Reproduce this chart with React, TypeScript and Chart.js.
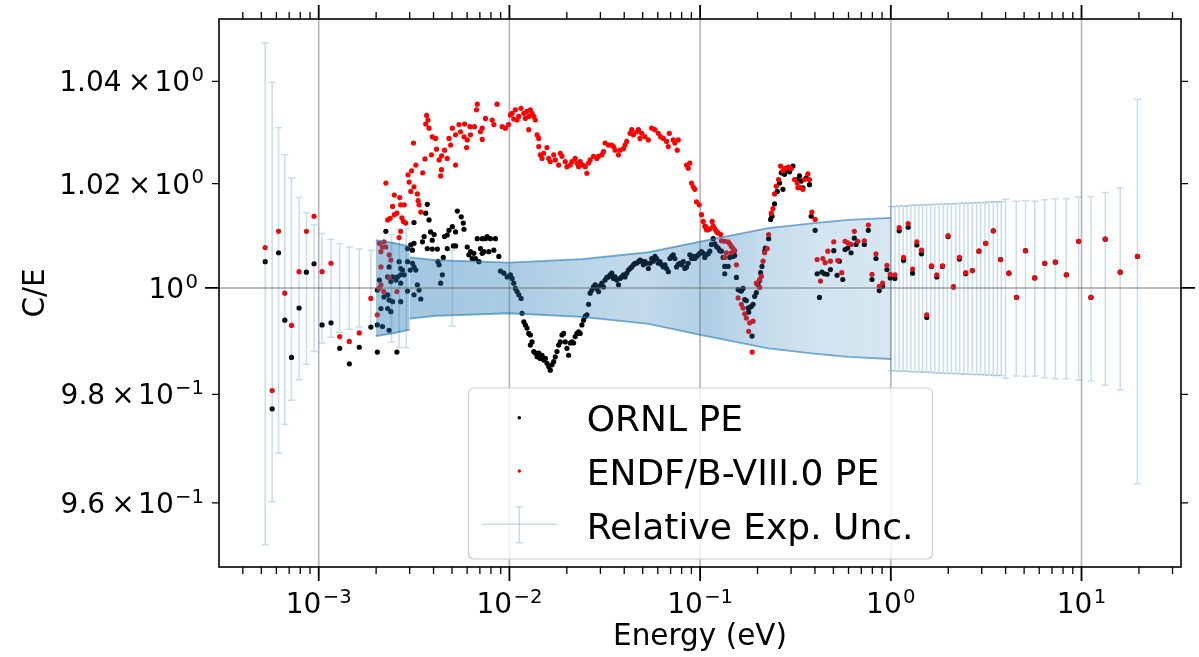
import { useEffect, useRef } from 'react';
import { Chart, registerables } from 'chart.js';

Chart.register(...registerables);

// ---------------- data ----------------
// [energy (eV), C/E]
const ornlPoints: [number, number][] = [
  [5.24e-4, 1.0050], [5.70e-4, 0.9773], [6.16e-4, 1.0067], [6.64e-4, 0.9939], [7.20e-4, 0.9869], [7.89e-4, 0.9962],
  [8.62e-4, 1.0030], [9.45e-4, 1.0046], [1.041e-3, 0.9930], [1.16e-3, 0.9934], [1.288e-3, 0.9886], [1.447e-3, 0.9857],
  [1.632e-3, 0.9888], [1.877e-3, 0.9926],
  [3.71e-3, 1.0160], [3.64e-3, 1.0143], [3.79e-3, 1.0130], [3.16e-3, 1.0125], [2.25e-3, 1.0108], [5.33e-3, 1.0147],
  [5.59e-3, 1.0136], [5.73e-3, 1.0124], [5.78e-3, 1.0112], [5.02e-3, 1.0117], [5.22e-3, 1.0107], [4.82e-3, 1.0110],
  [4.72e-3, 1.0101], [4.57e-3, 1.0098], [3.86e-3, 1.0107], [4.03e-3, 1.0102], [3.94e-3, 1.0091], [3.57e-3, 1.0098],
  [3.50e-3, 1.0088], [3.16e-3, 1.0085], [3.04e-3, 1.0082], [2.92e-3, 1.0075], [3.10e-3, 1.0072], [3.71e-3, 1.0075],
  [3.94e-3, 1.0074], [4.19e-3, 1.0074], [4.72e-3, 1.0075], [5.08e-3, 1.0080], [5.22e-3, 1.0080], [4.50e-3, 1.0058],
  [6.01e-3, 1.0078], [6.25e-3, 1.0069], [6.13e-3, 1.0063], [6.51e-3, 1.0066], [6.38e-3, 1.0056], [6.64e-3, 1.0056],
  [6.92e-3, 1.0050], [6.78e-3, 1.0094], [7.20e-3, 1.0094], [7.49e-3, 1.0094], [7.64e-3, 1.0098], [7.95e-3, 1.0094],
  [8.45e-3, 1.0094], [8.29e-3, 1.0072], [7.80e-3, 1.0069], [7.35e-3, 1.0069], [7.20e-3, 1.0066], [7.05e-3, 1.0075],
  [8.80e-3, 1.0060], [8.98e-3, 1.0032], [9.35e-3, 1.0028], [9.73e-3, 1.0021],
  [4.22e-3, 1.0050], [4.28e-3, 1.0044], [4.45e-3, 1.0025], [4.36e-3, 1.0009], [2.92e-3, 1.0050], [3.10e-3, 1.0047],
  [3.16e-3, 1.0040], [3.02e-3, 1.0034], [3.23e-3, 1.0034], [2.64e-3, 1.0050], [2.69e-3, 1.0037], [2.75e-3, 1.0034],
  [2.69e-3, 1.0025], [2.81e-3, 1.0025], [2.59e-3, 1.0021], [2.54e-3, 1.0015], [2.34e-3, 1.0040], [2.30e-3, 1.0021],
  [2.39e-3, 1.0012], [2.44e-3, 1.0021], [2.69e-3, 1.0009], [2.92e-3, 0.9994], [3.29e-3, 1.0006], [3.36e-3, 0.9996],
  [3.43e-3, 0.9979], [3.16e-3, 0.9987], [2.30e-3, 0.9987], [2.34e-3, 0.9977], [2.20e-3, 0.9983], [2.08e-3, 1.0015],
  [2.03e-3, 0.9996], [2.44e-3, 0.9974], [2.69e-3, 0.9974], [2.12e-3, 0.9961], [2.30e-3, 0.9961], [2.39e-3, 0.9955],
  [2.03e-3, 0.9930], [2.16e-3, 0.9927], [2.34e-3, 0.9920], [2.03e-3, 0.9879], [2.57e-3, 0.9879],
  [1.012e-2, 1.0025], [1.033e-2, 1.0018], [1.054e-2, 1.0009], [1.075e-2, 0.9999], [1.097e-2, 0.9993], [1.120e-2, 0.9987],
  [1.151e-2, 0.9980], [1.165e-2, 0.9952], [1.190e-2, 0.9936], [1.212e-2, 0.9930], [1.237e-2, 0.9924], [1.263e-2, 0.9914],
  [1.288e-2, 0.9911], [1.314e-2, 0.9898], [1.288e-2, 0.9892], [1.342e-2, 0.9880], [1.368e-2, 0.9877], [1.396e-2, 0.9870],
  [1.425e-2, 0.9877], [1.452e-2, 0.9867], [1.482e-2, 0.9873], [1.513e-2, 0.9864], [1.543e-2, 0.9867], [1.574e-2, 0.9858],
  [1.607e-2, 0.9852], [1.638e-2, 0.9845], [1.672e-2, 0.9855], [1.707e-2, 0.9861], [1.740e-2, 0.9870], [1.776e-2, 0.9880],
  [1.813e-2, 0.9892], [1.848e-2, 0.9898], [1.886e-2, 0.9911], [1.925e-2, 0.9914], [1.963e-2, 0.9898], [2.003e-2, 0.9886],
  [2.044e-2, 0.9873], [2.084e-2, 0.9896], [2.127e-2, 0.9898], [2.170e-2, 0.9896], [2.213e-2, 0.9908], [2.259e-2, 0.9914],
  [2.306e-2, 0.9917], [2.351e-2, 0.9914], [2.399e-2, 0.9930], [2.448e-2, 0.9939], [2.496e-2, 0.9946], [2.548e-2, 0.9949],
  [2.601e-2, 0.9969], [2.651e-2, 0.9990], [2.706e-2, 0.9996], [2.762e-2, 1.0002], [2.817e-2, 1.0006], [2.874e-2, 0.9999],
  [2.933e-2, 0.9993], [2.990e-2, 1.0004], [3.052e-2, 1.0009], [3.115e-2, 1.0002], [3.175e-2, 1.0015], [3.241e-2, 1.0020],
  [3.308e-2, 1.0021], [3.373e-2, 1.0025], [3.443e-2, 1.0028], [3.514e-2, 1.0018], [3.582e-2, 1.0021], [3.656e-2, 1.0015],
  [3.732e-2, 1.0006], [3.805e-2, 1.0018], [3.883e-2, 1.0021], [3.963e-2, 1.0025], [4.041e-2, 1.0021], [4.124e-2, 1.0028],
  [4.209e-2, 1.0034], [4.291e-2, 1.0037], [4.379e-2, 1.0040], [4.470e-2, 1.0044], [4.557e-2, 1.0047], [4.651e-2, 1.0047],
  [4.747e-2, 1.0050], [4.840e-2, 1.0053], [4.940e-2, 1.0051], [5.041e-2, 1.0044], [5.140e-2, 1.0050], [5.248e-2, 1.0047],
  [5.354e-2, 1.0037], [5.460e-2, 1.0047], [5.572e-2, 1.0056], [5.687e-2, 1.0051], [5.798e-2, 1.0060], [5.918e-2, 1.0056],
  [6.039e-2, 1.0047], [6.159e-2, 1.0050], [6.285e-2, 1.0044], [6.413e-2, 1.0040], [6.540e-2, 1.0044], [6.673e-2, 1.0037],
  [6.810e-2, 1.0031], [6.943e-2, 1.0056], [7.087e-2, 1.0060], [7.231e-2, 1.0063], [7.372e-2, 1.0056], [7.525e-2, 1.0040],
  [7.680e-2, 1.0045], [7.831e-2, 1.0047], [7.993e-2, 1.0044], [8.157e-2, 1.0050], [8.318e-2, 1.0037], [8.488e-2, 1.0040],
  [8.664e-2, 1.0047], [8.834e-2, 1.0063], [9.016e-2, 1.0056], [9.203e-2, 1.0060], [9.382e-2, 1.0056], [9.576e-2, 1.0060],
  [9.772e-2, 1.0063], [9.963e-2, 1.0066], [0.1017, 1.0069], [0.1038, 1.0066],
  [0.1058, 1.0058], [0.1080, 1.0064], [0.1103, 1.0065], [0.1124, 1.0070], [0.1147, 1.0083], [0.1171, 1.0094],
  [0.1194, 1.0084], [0.1218, 1.0079], [0.1243, 1.0076], [0.1268, 1.0071], [0.1294, 1.0070], [0.1320, 1.0058],
  [0.1346, 1.0041], [0.1403, 1.0041], [0.1346, 1.0027], [0.1430, 1.0058], [0.1489, 1.0060], [0.1518, 1.0062],
  [0.1550, 1.0020], [0.1582, 0.9997], [0.1613, 0.9995], [0.1646, 0.9994], [0.1680, 0.9999], [0.1713, 0.9978],
  [0.1748, 0.9976], [0.1784, 0.9962], [0.1819, 0.9963], [0.1856, 0.9965], [0.1895, 0.9969], [0.1872, 0.9909],
  [0.1797, 0.9954], [0.1932, 0.9984], [0.1972, 0.9991], [0.2013, 1.0006], [0.2052, 1.0014], [0.2076, 1.0029],
  [0.2111, 1.0041], [0.2179, 1.0070], [0.2198, 1.0076], [0.2287, 1.0094], [0.2342, 1.0131], [0.2382, 1.0137],
  [0.2458, 1.0161], [0.2539, 1.0185], [0.2610, 1.0201], [0.2664, 1.0221], [0.2718, 1.0189], [0.2771, 1.0218],
  [0.2863, 1.0225], [0.2944, 1.0223], [0.3067, 1.0234], [0.3229, 1.0208], [0.3321, 1.0215], [0.3389, 1.0205],
  [0.3459, 1.0192], [0.3600, 1.0211], [0.3745, 1.0198], [0.3823, 1.0137], [0.4011, 1.0110], [0.4108, 1.0027],
  [0.4224, 0.9982], [0.4350, 1.0030], [0.4487, 1.0027], [0.4634, 1.0026], [0.4822, 1.0035], [0.5023, 1.0071],
  [0.5227, 1.0024], [0.5374, 1.0051], [0.5598, 1.0016], [0.5754, 1.0073], [0.5945, 1.0076], [0.6186, 1.0067],
  [0.6438, 1.0095], [0.6571, 1.0083], [0.7262, 1.0083], [0.7620, 1.0110], [0.7966, 1.0016], [0.8356, 1.0056],
  [0.8696, 0.9995], [0.9059, 1.0003], [0.9541, 1.0035], [0.9929, 1.0019],
  [1.0505, 1.0018], [1.1064, 1.0109], [1.1665, 1.0052], [1.233, 1.0116], [1.300, 1.0028], [1.369, 1.0082],
  [1.449, 1.0065], [1.544, 0.9944], [1.634, 1.0041], [1.742, 1.0021], [1.866, 1.0041], [1.996, 1.0098],
  [2.130, 1.0002], [2.290, 1.0055], [2.470, 1.0027], [2.677, 1.0033], [2.898, 1.0070], [3.141, 1.0085],
  [3.447, 1.0109], [3.763, 1.0054], [4.159, 1.0028], [4.562, 0.9982], [5.085, 1.0071], [5.686, 1.0019],
  [6.414, 1.0047], [7.295, 1.0049], [8.326, 1.0025], [9.656, 1.0089], [11.21, 0.9982], [13.32, 1.0093],
  [15.95, 1.0030], [19.65, 1.0060],
];

const endfPoints: [number, number][] = [
  [5.24e-4, 1.0077], [5.70e-4, 0.9807], [6.16e-4, 1.0108], [6.64e-4, 0.9990], [7.20e-4, 0.9929], [7.89e-4, 1.0031],
  [8.62e-4, 1.0108], [9.45e-4, 1.0137], [1.041e-3, 1.0031], [1.16e-3, 1.0047], [1.288e-3, 0.9908], [1.447e-3, 0.9899],
  [1.632e-3, 0.9915], [1.877e-3, 0.9980],
  [6.78e-3, 1.0355], [6.72e-3, 1.0344], [8.62e-3, 1.0355], [3.68e-3, 1.0333], [3.74e-3, 1.0324], [3.64e-3, 1.0316],
  [3.79e-3, 1.0308], [5.02e-3, 1.0308], [5.44e-3, 1.0315], [5.82e-3, 1.0316], [6.21e-3, 1.0311], [6.56e-3, 1.0311],
  [7.20e-3, 1.0308], [7.49e-3, 1.0327], [8.12e-3, 1.0324], [8.29e-3, 1.0315], [9.16e-3, 1.0311], [9.53e-3, 1.0308],
  [1.012e-2, 1.0334], [1.054e-2, 1.0326], [3.14e-3, 1.0279], [3.94e-3, 1.0291], [4.10e-3, 1.0288], [4.82e-3, 1.0288],
  [4.92e-3, 1.0275], [5.22e-3, 1.0295], [5.54e-3, 1.0301], [5.78e-3, 1.0291], [6.01e-3, 1.0285], [6.25e-3, 1.0295],
  [7.05e-3, 1.0301], [7.20e-3, 1.0286], [5.96e-3, 1.0270], [4.15e-3, 1.0267], [4.57e-3, 1.0265], [4.41e-3, 1.0254],
  [4.72e-3, 1.0249], [4.28e-3, 1.0246], [3.90e-3, 1.0256], [3.61e-3, 1.0248], [4.40e-3, 1.0227], [4.36e-3, 1.0215],
  [5.22e-3, 1.0236], [3.23e-3, 1.0236], [3.07e-3, 1.0225], [2.94e-3, 1.0217], [2.98e-3, 1.0203], [3.51e-3, 1.0221],
  [2.25e-3, 1.0201], [3.16e-3, 1.0194], [3.04e-3, 1.0185], [3.29e-3, 1.0180], [3.32e-3, 1.0167], [3.36e-3, 1.0159],
  [3.43e-3, 1.0145], [2.49e-3, 1.0178], [2.66e-3, 1.0173], [2.44e-3, 1.0156], [2.69e-3, 1.0159], [2.81e-3, 1.0159],
  [2.57e-3, 1.0143], [2.49e-3, 1.0140], [2.37e-3, 1.0133], [2.30e-3, 1.0130], [2.73e-3, 1.0134], [2.78e-3, 1.0127],
  [2.86e-3, 1.0124], [2.69e-3, 1.0108], [2.64e-3, 1.0096], [2.20e-3, 1.0088], [2.08e-3, 1.0085], [2.16e-3, 1.0078],
  [2.25e-3, 1.0078], [2.12e-3, 1.0069], [2.34e-3, 1.0063], [2.39e-3, 1.0053], [2.12e-3, 1.0040], [2.34e-3, 1.0020],
  [2.12e-3, 1.0006], [2.08e-3, 1.0000], [2.19e-3, 0.9993], [2.57e-3, 0.9993], [2.03e-3, 0.9949],
  [1.033e-2, 1.0337], [1.075e-2, 1.0344], [1.120e-2, 1.0331], [1.151e-2, 1.0347], [1.190e-2, 1.0337], [1.212e-2, 1.0327],
  [1.237e-2, 1.0341], [1.263e-2, 1.0331], [1.288e-2, 1.0344], [1.314e-2, 1.0337], [1.342e-2, 1.0331], [1.368e-2, 1.0324],
  [9.90e-3, 1.0315], [1.097e-2, 1.0324], [1.263e-2, 1.0305], [1.396e-2, 1.0295], [1.425e-2, 1.0288], [1.425e-2, 1.0272],
  [1.574e-2, 1.0270], [1.452e-2, 1.0256], [1.513e-2, 1.0259], [1.482e-2, 1.0249], [1.607e-2, 1.0249], [1.638e-2, 1.0243],
  [1.707e-2, 1.0256], [1.740e-2, 1.0246], [1.813e-2, 1.0236], [1.848e-2, 1.0259], [1.886e-2, 1.0253], [1.963e-2, 1.0243],
  [2.003e-2, 1.0233], [2.084e-2, 1.0236], [2.127e-2, 1.0243], [2.213e-2, 1.0249], [2.259e-2, 1.0240], [2.306e-2, 1.0233],
  [2.351e-2, 1.0243], [2.428e-2, 1.0236], [2.496e-2, 1.0233], [2.548e-2, 1.0220], [2.601e-2, 1.0240], [2.651e-2, 1.0246],
  [2.762e-2, 1.0253], [2.874e-2, 1.0249], [2.933e-2, 1.0253], [3.052e-2, 1.0256], [3.115e-2, 1.0262], [3.175e-2, 1.0279],
  [3.308e-2, 1.0275], [3.443e-2, 1.0275], [3.514e-2, 1.0272], [3.582e-2, 1.0265], [3.732e-2, 1.0256], [3.805e-2, 1.0265],
  [3.963e-2, 1.0268], [4.041e-2, 1.0275], [4.124e-2, 1.0282], [4.291e-2, 1.0298], [4.379e-2, 1.0305], [4.470e-2, 1.0295],
  [4.651e-2, 1.0301], [4.747e-2, 1.0305], [4.840e-2, 1.0288], [4.940e-2, 1.0298], [5.140e-2, 1.0291], [5.354e-2, 1.0285],
  [5.572e-2, 1.0308], [5.798e-2, 1.0305], [6.039e-2, 1.0298], [6.209e-2, 1.0291], [6.413e-2, 1.0288], [6.673e-2, 1.0282],
  [6.893e-2, 1.0298], [6.810e-2, 1.0272], [7.231e-2, 1.0285], [7.372e-2, 1.0279], [7.589e-2, 1.0265], [7.680e-2, 1.0285],
  [8.488e-2, 1.0236], [8.664e-2, 1.0230], [8.834e-2, 1.0240], [9.016e-2, 1.0201], [9.203e-2, 1.0194], [9.576e-2, 1.0165],
  [9.892e-2, 1.0159], [0.1017, 1.0140], [0.1038, 1.0127], [0.1071, 1.0117],
  [9.382e-2, 1.0189], [0.1058, 1.0118], [0.1080, 1.0111], [0.1103, 1.0111], [0.1124, 1.0113], [0.1157, 1.0127],
  [0.1171, 1.0118], [0.1194, 1.0113], [0.1218, 1.0108], [0.1243, 1.0105], [0.1283, 1.0102], [0.1294, 1.0090],
  [0.1346, 1.0089], [0.1403, 1.0088], [0.1430, 1.0084], [0.1459, 1.0079], [0.1489, 1.0075], [0.1346, 1.0058],
  [0.1374, 1.0067], [0.1518, 1.0071], [0.1459, 1.0067], [0.1550, 1.0044], [0.1582, 0.9981], [0.1646, 0.9969],
  [0.1680, 0.9962], [0.1713, 0.9951], [0.1748, 0.9943], [0.1819, 0.9934], [0.1895, 0.9937], [0.1797, 0.9918],
  [0.1875, 0.9879], [0.1972, 1.0009], [0.2052, 1.0016], [0.2052, 1.0001], [0.2094, 1.0022], [0.2138, 1.0051],
  [0.2179, 1.0067], [0.2251, 1.0075], [0.2287, 1.0102], [0.2362, 1.0143], [0.2411, 1.0152], [0.2458, 1.0180],
  [0.2509, 1.0195], [0.2578, 1.0208], [0.2641, 1.0234], [0.2718, 1.0225], [0.2771, 1.0229], [0.2863, 1.0231],
  [0.2908, 1.0232], [0.3004, 1.0229], [0.3126, 1.0208], [0.3229, 1.0201], [0.3257, 1.0192], [0.3321, 1.0193],
  [0.3459, 1.0189], [0.3527, 1.0208], [0.3673, 1.0219], [0.3745, 1.0208], [0.3855, 1.0145], [0.4011, 1.0131],
  [0.4108, 1.0054], [0.4276, 1.0013], [0.4401, 1.0056], [0.4524, 1.0048], [0.4673, 1.0070], [0.4822, 1.0051],
  [0.5023, 1.0088], [0.5272, 1.0052], [0.5532, 1.0029], [0.5754, 1.0089], [0.5945, 1.0086], [0.6186, 1.0083],
  [0.6438, 1.0108], [0.6707, 1.0089], [0.7262, 1.0090], [0.7620, 1.0120], [0.7966, 1.0026], [0.8356, 1.0065],
  [0.8696, 1.0003], [0.9059, 1.0009], [0.9541, 1.0043], [0.9929, 1.0026],
  [1.0505, 1.0025], [1.1064, 1.0115], [1.1665, 1.0058], [1.233, 1.0123], [1.300, 1.0036], [1.369, 1.0088],
  [1.449, 1.0072], [1.544, 0.9949], [1.634, 1.0042], [1.742, 1.0025], [1.866, 1.0042], [1.996, 1.0100],
  [2.130, 1.0002], [2.290, 1.0058], [2.470, 1.0029], [2.677, 1.0033], [2.898, 1.0070], [3.141, 1.0085],
  [3.447, 1.0109], [3.763, 1.0054], [4.159, 1.0028], [4.562, 0.9982], [5.085, 1.0071], [5.686, 1.0019],
  [6.414, 1.0047], [7.295, 1.0049], [8.326, 1.0025], [9.656, 1.0089], [11.21, 0.9982], [13.32, 1.0093],
  [15.95, 1.0030], [19.65, 1.0060],
];

// individual error bars: [energy, relative uncertainty]
const uncBars: [number, number][] = [
  [5.24e-4, 0.0476], [5.70e-4, 0.0398], [6.16e-4, 0.0309], [6.64e-4, 0.0256], [7.20e-4, 0.0211], [7.89e-4, 0.0173],
  [8.62e-4, 0.0144], [9.45e-4, 0.0120], [1.041e-3, 0.0104], [1.16e-3, 0.0093], [1.288e-3, 0.0084], [1.447e-3, 0.0078],
  [1.632e-3, 0.0074], [1.877e-3, 0.0072], [2.41e-3, 0.0102], [2.64e-3, 0.0112], [2.88e-3, 0.0113], [5.02e-3, 0.0072],
  [1.001, 0.0156], [1.051, 0.0156], [1.106, 0.0157], [1.161, 0.0157], [1.214, 0.0157], [1.274, 0.0158],
  [1.336, 0.0158], [1.403, 0.0158], [1.467, 0.0159], [1.539, 0.0159], [1.621, 0.0159], [1.701, 0.0160],
  [1.791, 0.0160], [1.888, 0.0160], [1.981, 0.0161], [2.079, 0.0161], [2.189, 0.0161], [2.297, 0.0162],
  [2.419, 0.0162], [2.538, 0.0162], [2.677, 0.0163], [2.819, 0.0163], [2.958, 0.0163], [3.115, 0.0164],
  [3.269, 0.0164], [3.446, 0.0165], [3.617, 0.0165], [3.796, 0.0165],
  [3.998, 0.0170], [4.546, 0.0166], [5.085, 0.0167], [5.686, 0.0166], [6.414, 0.0169], [7.295, 0.0171],
  [8.326, 0.0171], [9.656, 0.0174], [11.21, 0.0175], [13.32, 0.0183], [15.95, 0.0192], [19.65, 0.0365],
];

// densely packed error bars, drawn as their envelope: [energy, relative uncertainty]
const uncBandLow: [number, number][] = [[1.99e-3, 0.0091], [2.45e-3, 0.0086], [3.0e-3, 0.0079]];
const uncBandMain: [number, number][] = [
  [3.0e-3, 0.0058], [4.09e-3, 0.0053], [9.96e-3, 0.0048], [2.4e-2, 0.0055], [5.37e-2, 0.0068],
  [0.1017, 0.0089], [0.2278, 0.0114], [0.396, 0.0124], [0.597, 0.0130], [1.0, 0.0134],
];

const xRange = [3.112e-4, 33.24];
const yRange = [0.94839, 1.05239];
const xMajorExponents = [-3, -2, -1, 0, 1];
const xMinorDecades = [-4, -3, -2, -1, 0, 1];
const yTickValues = [0.96, 0.98, 1.0, 1.02, 1.04];
const yTickMantissas = ['9.6', '9.8', '', '1.02', '1.04'];
const yTickExponents = ['\u22121', '\u22121', '0', '0', '0'];
const xTitle = 'Energy (eV)';
const yTitle = 'C/E';
const legendLabels = ['ORNL PE', 'ENDF/B-VIII.0 PE', 'Relative Exp. Unc.'];

// ---------------- style ----------------
const FONT = '"DejaVu Sans", "Liberation Sans", sans-serif';
const FS = 28;
const FS_TITLE = 29.5;
const FS_LEGEND = 36;
const BLUE = '31,119,180';
const ERR_COLOR = `rgba(${BLUE},0.25)`;
const EDGE_COLOR = `rgba(${BLUE},0.6)`;
const fillStopE = [2e-3, 1e-2, 2e-2, 5e-2, 9e-2, 0.11, 0.2, 0.4, 1.0];
const fillStopA = [0.42, 0.38, 0.32, 0.27, 0.33, 0.36, 0.27, 0.2, 0.18];

type Seg = { t: string; s: number; dy: number; gap: number };

function sciSegs(mant: string, exp: string): Seg[] {
  const segs: Seg[] = [];
  if (mant) {
    segs.push({ t: mant, s: FS, dy: 0, gap: 0.22 * FS });
    segs.push({ t: '\u00d7', s: FS, dy: 0, gap: 0.12 * FS });
  }
  segs.push({ t: '10', s: FS, dy: 0, gap: 0.05 * FS });
  segs.push({ t: exp, s: FS * 0.7, dy: -0.37 * FS, gap: 0 });
  return segs;
}

function segsWidth(ctx: CanvasRenderingContext2D, segs: Seg[]) {
  let w = 0;
  for (const g of segs) {
    ctx.font = `${g.s}px ${FONT}`;
    w += ctx.measureText(g.t).width + g.gap;
  }
  return w;
}

function drawSegs(ctx: CanvasRenderingContext2D, segs: Seg[], x0: number, baseline: number) {
  let x = x0;
  ctx.textAlign = 'left';
  ctx.textBaseline = 'alphabetic';
  for (const g of segs) {
    ctx.font = `${g.s}px ${FONT}`;
    ctx.fillText(g.t, x, baseline + g.dy);
    x += ctx.measureText(g.t).width + g.gap;
  }
}

function bandFill(context: any) {
  const chart = context.chart;
  const area = chart.chartArea;
  if (!area) return `rgba(${BLUE},0.3)`;
  const xs = chart.scales.x;
  const g = chart.ctx.createLinearGradient(area.left, 0, area.right, 0);
  fillStopE.forEach((e, i) => {
    const p = (xs.getPixelForValue(e) - area.left) / (area.right - area.left);
    g.addColorStop(Math.min(1, Math.max(0, p)), `rgba(${BLUE},${fillStopA[i]})`);
  });
  return g;
}

function drawErrorBar(ctx: CanvasRenderingContext2D, px: number, top: number, bot: number, cap: number) {
  ctx.beginPath();
  ctx.moveTo(px, top);
  ctx.lineTo(px, bot);
  ctx.moveTo(px - cap, top);
  ctx.lineTo(px + cap, top);
  ctx.moveTo(px - cap, bot);
  ctx.lineTo(px + cap, bot);
  ctx.stroke();
}

const mplPlugin = {
  id: 'mplLook',
  beforeDatasetsDraw(chart: any) {
    const { ctx, chartArea: a } = chart;
    const xs = chart.scales.x;
    ctx.save();
    ctx.strokeStyle = 'rgba(176,176,176,0.95)';
    ctx.lineWidth = 1.6;
    for (const e of xMajorExponents) {
      const px = xs.getPixelForValue(Math.pow(10, e));
      ctx.beginPath();
      ctx.moveTo(px, a.top);
      ctx.lineTo(px, a.bottom);
      ctx.stroke();
    }
    ctx.restore();
  },
  afterDatasetsDraw(chart: any) {
    const { ctx, chartArea: a } = chart;
    const xs = chart.scales.x;
    const ys = chart.scales.y;
    ctx.save();
    ctx.beginPath();
    ctx.rect(a.left, a.top, a.right - a.left, a.bottom - a.top);
    ctx.clip();
    ctx.strokeStyle = ERR_COLOR;
    ctx.lineWidth = 1.5;
    for (const [e, u] of uncBars) {
      drawErrorBar(ctx, xs.getPixelForValue(e), ys.getPixelForValue(1 + u), ys.getPixelForValue(1 - u), 3.5);
    }
    const y1 = ys.getPixelForValue(1);
    ctx.strokeStyle = 'rgba(105,105,105,0.6)';
    ctx.lineWidth = 1.5;
    ctx.beginPath();
    ctx.moveTo(a.left, y1);
    ctx.lineTo(a.right, y1);
    ctx.stroke();
    ctx.restore();
  },
  afterDraw(chart: any) {
    const { ctx, chartArea: a } = chart;
    const xs = chart.scales.x;
    const ys = chart.scales.y;
    ctx.save();
    ctx.fillStyle = '#000';
    ctx.strokeStyle = '#000';
    // x ticks (bottom + top)
    for (const k of xMinorDecades) {
      for (let m = 1; m <= 9; m++) {
        const v = m * Math.pow(10, k);
        if (v < xRange[0] || v > xRange[1]) continue;
        const px = xs.getPixelForValue(v);
        const len = m === 1 ? 14 : 7;
        ctx.lineWidth = m === 1 ? 1.8 : 1.3;
        ctx.beginPath();
        ctx.moveTo(px, a.bottom);
        ctx.lineTo(px, a.bottom + len);
        ctx.moveTo(px, a.top);
        ctx.lineTo(px, a.top - len);
        ctx.stroke();
      }
    }
    // y ticks (left + right)
    yTickValues.forEach((v) => {
      const py = ys.getPixelForValue(v);
      const len = v === 1 ? 14 : 7;
      ctx.lineWidth = v === 1 ? 1.8 : 1.3;
      ctx.beginPath();
      ctx.moveTo(a.left, py);
      ctx.lineTo(a.left - len, py);
      ctx.moveTo(a.right, py);
      ctx.lineTo(a.right + len, py);
      ctx.stroke();
    });
    // spines
    ctx.lineWidth = 1.6;
    ctx.strokeRect(a.left, a.top, a.right - a.left, a.bottom - a.top);
    // x tick labels
    for (const e of xMajorExponents) {
      const px = xs.getPixelForValue(Math.pow(10, e));
      const segs = sciSegs('', e < 0 ? '\u2212' + String(-e) : String(e));
      const w = segsWidth(ctx, segs);
      drawSegs(ctx, segs, px - w / 2, a.bottom + 46);
    }
    // y tick labels
    yTickValues.forEach((v, i) => {
      const py = ys.getPixelForValue(v);
      const segs = sciSegs(yTickMantissas[i], yTickExponents[i]);
      const w = segsWidth(ctx, segs);
      const right = v === 1 ? a.left - 21 : a.left - 15;
      drawSegs(ctx, segs, right - w, py + 10);
    });
    // axis titles
    ctx.font = `${FS_TITLE}px ${FONT}`;
    ctx.textAlign = 'center';
    ctx.textBaseline = 'alphabetic';
    ctx.fillText(xTitle, (a.left + a.right) / 2, 645);
    ctx.save();
    ctx.translate(44, (a.top + a.bottom) / 2);
    ctx.rotate(-Math.PI / 2);
    ctx.fillText(yTitle, 0, 0);
    ctx.restore();
    // legend
    const lx = 468.5, ly = 388, lw = 464, lh = 171, r = 6;
    ctx.beginPath();
    ctx.moveTo(lx + r, ly);
    ctx.lineTo(lx + lw - r, ly);
    ctx.quadraticCurveTo(lx + lw, ly, lx + lw, ly + r);
    ctx.lineTo(lx + lw, ly + lh - r);
    ctx.quadraticCurveTo(lx + lw, ly + lh, lx + lw - r, ly + lh);
    ctx.lineTo(lx + r, ly + lh);
    ctx.quadraticCurveTo(lx, ly + lh, lx, ly + lh - r);
    ctx.lineTo(lx, ly + r);
    ctx.quadraticCurveTo(lx, ly, lx + r, ly);
    ctx.closePath();
    ctx.fillStyle = 'rgba(255,255,255,0.8)';
    ctx.fill();
    ctx.strokeStyle = 'rgba(204,204,204,1)';
    ctx.lineWidth = 1.2;
    ctx.stroke();
    const hx = 519.3;
    ctx.fillStyle = '#000';
    ctx.beginPath();
    ctx.arc(hx, 417.7, 1.8, 0, Math.PI * 2);
    ctx.fill();
    ctx.fillStyle = '#ff0000';
    ctx.beginPath();
    ctx.arc(hx, 471, 1.8, 0, Math.PI * 2);
    ctx.fill();
    ctx.strokeStyle = ERR_COLOR;
    ctx.lineWidth = 1.5;
    ctx.beginPath();
    ctx.moveTo(481.7, 524.3);
    ctx.lineTo(556.7, 524.3);
    ctx.stroke();
    drawErrorBar(ctx, hx, 506.7, 542.7, 3.5);
    ctx.fillStyle = '#000';
    ctx.font = `${FS_LEGEND}px ${FONT}`;
    ctx.textAlign = 'left';
    ctx.textBaseline = 'alphabetic';
    const baselines = [430.5, 484.5, 538.5];
    legendLabels.forEach((lab, i) => {
      ctx.fillText(lab, 586.7, baselines[i]);
    });
    ctx.restore();
  },
};

export default function App() {
  const ref = useRef<HTMLCanvasElement>(null);
  useEffect(() => {
    const canvas = ref.current;
    if (!canvas) return;
    const toXY = (p: [number, number]) => ({ x: p[0], y: p[1] });
    const upper = (b: [number, number][]) => b.map(([e, u]) => ({ x: e, y: 1 + u }));
    const lower = (b: [number, number][]) => b.map(([e, u]) => ({ x: e, y: 1 - u }));
    const lineBase = { type: 'line' as const, pointRadius: 0, borderColor: EDGE_COLOR, borderWidth: 1.8, tension: 0 };
    const chart = new Chart(canvas, {
      type: 'scatter',
      data: {
        datasets: [
          { label: legendLabels[0], data: ornlPoints.map(toXY), backgroundColor: '#000000', borderWidth: 0, pointRadius: 2.6, order: 5 },
          { label: legendLabels[1], data: endfPoints.map(toXY), backgroundColor: '#ff0000', borderWidth: 0, pointRadius: 2.6, order: 4 },
          { ...lineBase, label: 'bandLowUp', data: upper(uncBandLow), fill: false, order: 3 },
          { ...lineBase, label: 'bandLowDn', data: lower(uncBandLow), fill: '-1', backgroundColor: bandFill, order: 2 },
          { ...lineBase, label: 'bandUp', data: upper(uncBandMain), fill: false, order: 1 },
          { ...lineBase, label: 'bandDn', data: lower(uncBandMain), fill: '-1', backgroundColor: bandFill, order: 0 },
        ] as any,
      },
      options: {
        animation: false,
        responsive: false,
        events: [],
        layout: { padding: { left: 219, right: 18, top: 19, bottom: 90 } },
        plugins: { legend: { display: false }, tooltip: { enabled: false } },
        scales: {
          x: { type: 'logarithmic', min: xRange[0], max: xRange[1], display: false },
          y: { type: 'logarithmic', min: yRange[0], max: yRange[1], display: false },
        },
      },
      plugins: [mplPlugin],
    });
    return () => chart.destroy();
  }, []);
  return (
    <div style={{ position: 'fixed', left: 0, top: 0, width: 1199, height: 657, background: '#ffffff' }}>
      <canvas ref={ref} width={1199} height={657} style={{ display: 'block', width: 1199, height: 657 }} />
    </div>
  );
}
